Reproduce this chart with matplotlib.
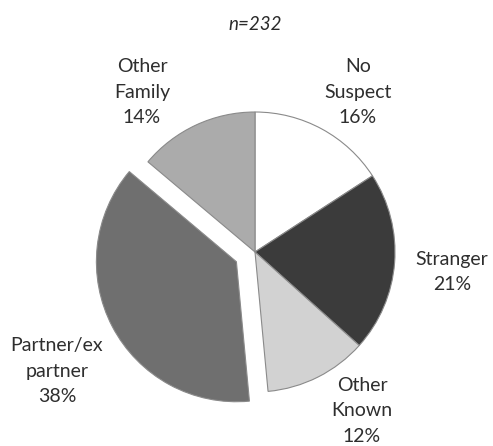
import matplotlib
matplotlib.use("Agg")
import matplotlib.pyplot as plt

# Suspect relationship breakdown
categories = ["No\nSuspect", "Stranger", "Other\nKnown", "Partner/ex\npartner", "Other\nFamily"]
shares = [16, 21, 12, 38, 14]
title_text = "n=232"

colors = ["#ffffff", "#3b3b3b", "#d2d2d2", "#6f6f6f", "#ababab"]
explode = [0, 0, 0, 0.15, 0.0]

W, H = 493, 446
cx, cy, R = 255, 252, 140  # pie centre and radius in pixels

fig = plt.figure(figsize=(W / 100, H / 100), dpi=100)
ax = fig.add_axes([0, 0, 1, 1])

ax.pie(shares, colors=colors, explode=explode, startangle=90, counterclock=False,
       radius=1.0, center=(0, 0),
       wedgeprops=dict(edgecolor="#8a8a8a", linewidth=0.8))

ax.set_xlim(-cx / R, (W - cx) / R)
ax.set_ylim(-(H - cy) / R, cy / R)
ax.set_aspect("equal", adjustable="box")
ax.axis("off")

# label anchors (pixel space of the figure)
label_px = [(358, 92), (452, 272), (362, 411), (57, 371), (142, 92)]
font = ["Lato", "DejaVu Sans"]
for name, val, (px, py) in zip(categories, shares, label_px):
    ax.text((px - cx) / R, (cy - py) / R, f"{name}\n{val}%", ha="center", va="center",
            fontsize=14, family=font, color="#2e2e2e", linespacing=1.62)

fig.text(cx / W, 1 - 25 / H, title_text, ha="center", va="center", fontsize=13.5,
         family=font, style="italic", color="#2a2a2a")

fig.savefig("out.png", dpi=100)
